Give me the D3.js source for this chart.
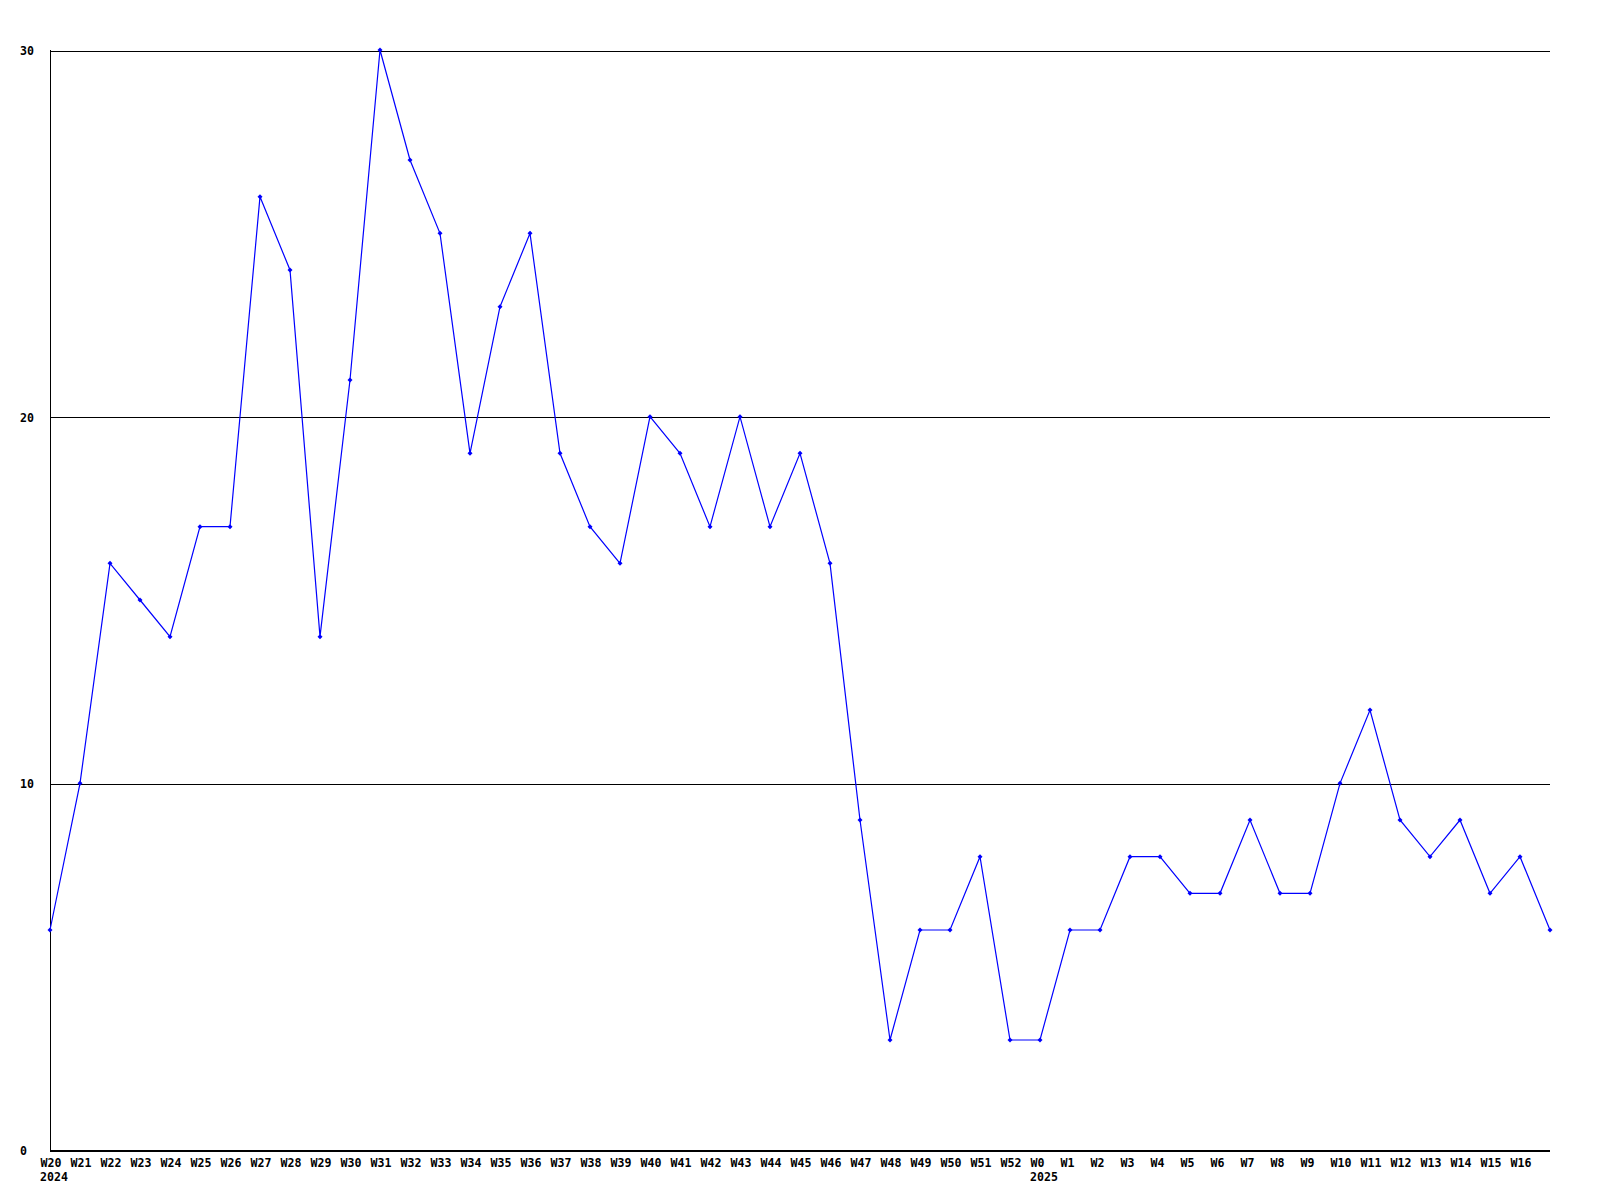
<!DOCTYPE html>
<html><head><meta charset="utf-8">
<script src="https://cdn.jsdelivr.net/npm/d3@7"></script>
<style>
html,body{margin:0;padding:0;background:#fff;}
svg{display:block;}
text{font-family:"DejaVu Sans Mono","Liberation Mono",monospace;font-weight:bold;font-size:11.6px;fill:#000;}
</style></head>
<body>
<svg id="chart" width="1600" height="1200"></svg>
<script>
const weekLabels = ["W20","W21","W22","W23","W24","W25","W26","W27","W28","W29","W30","W31","W32","W33","W34","W35","W36","W37","W38","W39","W40","W41","W42","W43","W44","W45","W46","W47","W48","W49","W50","W51","W52","W0","W1","W2","W3","W4","W5","W6","W7","W8","W9","W10","W11","W12","W13","W14","W15","W16"];
const yearLabels = [{index:0, label:"2024"},{index:33, label:"2025"}];
const values = [6,10,16,15,14,17,17,26,24,14,21,30,27,25,19,23,25,19,17,16,20,19,17,20,17,19,16,9,3,6,6,8,3,3,6,6,8,8,7,7,9,7,7,10,12,9,8,9,7,8,6];
const yTicks = [0,10,20,30];

(function(){
const svg = d3.select("#chart");
const mLeft = 50, mRight = 1550, mTop = 50, mBottom = 1150;

const x = d3.scaleLinear().domain([0, values.length - 1]).range([mLeft, mRight]);
const y = d3.scaleLinear().domain([0, 30]).range([mBottom, mTop]);

// Y axis with grid lines
const yAxis = d3.axisLeft(y).tickValues(yTicks).tickSize(-(mRight - mLeft)).tickSizeOuter(0);
const gy = svg.append("g").attr("transform", `translate(${mLeft},0.5)`).call(yAxis);
gy.attr("font-family", null).attr("font-size", null);
gy.select(".domain").remove();
gy.selectAll(".tick line").attr("stroke", "#000").attr("shape-rendering", "crispEdges");
gy.selectAll(".tick text").attr("x", 20 - mLeft).attr("dy", "0.35em")
  .attr("text-anchor", "start").attr("fill", "#000");

// Left axis line
svg.append("line").attr("x1", mLeft + 0.5).attr("x2", mLeft + 0.5).attr("y1", mTop).attr("y2", mBottom + 1)
  .attr("stroke", "#000").attr("shape-rendering", "crispEdges");
// Bottom axis line
svg.append("line").attr("x1", mLeft).attr("x2", mRight).attr("y1", mBottom + 0.5).attr("y2", mBottom + 0.5)
  .attr("stroke", "#000").attr("shape-rendering", "crispEdges");

// X axis labels
const xAxis = d3.axisBottom(x).tickValues(d3.range(weekLabels.length)).tickFormat(i => weekLabels[i]).tickSize(0).tickSizeOuter(0);
const gx = svg.append("g").attr("transform", `translate(0,${mBottom})`).call(xAxis);
gx.attr("font-family", null).attr("font-size", null);
gx.select(".domain").remove();
gx.selectAll(".tick text").attr("x", -10).attr("y", 17).attr("dy", null)
  .attr("text-anchor", "start").attr("fill", "#000");

svg.append("g").selectAll("text").data(yearLabels).join("text")
  .attr("x", d => x(d.index) - 10).attr("y", mBottom + 31)
  .text(d => d.label);

// Line
const line = d3.line().x((d, i) => x(i)).y(d => y(d));
svg.append("path").datum(values).attr("d", line)
  .attr("fill", "none").attr("stroke", "#0000ff").attr("stroke-width", 1.2);

// Markers (small diamonds)
svg.append("g").selectAll("path").data(values).join("path")
  .attr("transform", (d, i) => `translate(${x(i)},${y(d)})`)
  .attr("d", "M0,-2.5L2.5,0L0,2.5L-2.5,0Z")
  .attr("fill", "#0000ff");
})();
</script>
</body></html>
